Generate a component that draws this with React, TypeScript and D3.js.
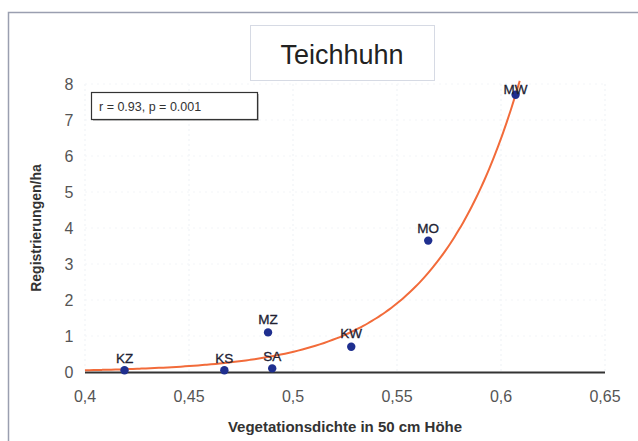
import React from "react";
import * as d3 from "d3";

// Vegetationsdichte (x) vs. Registrierungen/ha (y), per site
const sites = ["KZ", "KS", "MZ", "SA", "KW", "MO", "MW"];
const density = [0.419, 0.467, 0.488, 0.49, 0.528, 0.565, 0.607];
const registrations = [0.05, 0.05, 1.1, 0.1, 0.7, 3.65, 7.7];
// label offset above the dot (MW label sits on the dot)
const labelLift = [7, 7, 8, 7, 9, 8, 1];

const xTicks = [0.4, 0.45, 0.5, 0.55, 0.6, 0.65];
const yTicks = [0, 1, 2, 3, 4, 5, 6, 7, 8];

// exponential fit y = a * exp(b * x)
const fitA = 7.7 * Math.exp(-24.5 * 0.607);
const fitB = 24.5;
const fitRange = [0.4, 0.609];

const W = 638;
const H = 441;

const App = () => {
  const x = d3.scaleLinear().domain([0.4, 0.65]).range([85, 605]);
  const y = d3.scaleLinear().domain([0, 8]).range([372, 84]);

  const fitPts: [number, number][] = d3
    .range(0, 101)
    .map((i) => fitRange[0] + ((fitRange[1] - fitRange[0]) * i) / 100)
    .map((v) => [v, fitA * Math.exp(fitB * v)]);
  const line = d3
    .line<[number, number]>()
    .x((d) => x(d[0]))
    .y((d) => y(d[1]))
    .curve(d3.curveMonotoneX);

  const fmt = (v: number) => String(+v.toFixed(2)).replace(".", ",");
  const font = "Liberation Sans, Arial, sans-serif";

  return (
    <div style={{ position: "absolute", left: 0, top: 0 }}>
      <svg width={W} height={H} style={{ display: "block", background: "#fff" }} fontFamily={font}>
        {/* outer chart frame */}
        <path d={`M8.5,${H} V12.5 H${W}`} fill="none" stroke="#9a9fb0" strokeWidth={1.5} />

        {/* faint gridlines */}
        {xTicks.map((t) => (
          <line key={t} x1={x(t)} x2={x(t)} y1={y(8)} y2={y(0)} stroke="#edf1f5" strokeDasharray="2,3" />
        ))}
        {yTicks.slice(1).map((t) => (
          <line key={t} x1={x(0.4)} x2={x(0.65)} y1={y(t)} y2={y(t)} stroke="#f3f5f8" strokeDasharray="2,4" />
        ))}

        {/* title box */}
        <rect x={250.5} y={25.5} width={184} height={55} fill="#fff" stroke="#d6dae4" />
        <text x={342} y={64} textAnchor="middle" fontSize={27} fill="#222">
          Teichhuhn
        </text>

        {/* stats box */}
        <rect x={93} y={94} width={166} height={27} fill="#888" opacity={0.5} />
        <rect x={91.5} y={92.5} width={166} height={27} fill="#fff" stroke="#333" strokeWidth={1.2} />
        <text x={99} y={111} fontSize={12.5} fill="#333">
          r = 0.93, p = 0.001
        </text>

        {/* x axis */}
        <line x1={x(0.4)} x2={x(0.65)} y1={y(0) + 0.5} y2={y(0) + 0.5} stroke="#333" strokeWidth={2} />
        {xTicks.map((t) => (
          <text key={t} x={x(t)} y={402} textAnchor="middle" fontSize={16} fill="#555">
            {fmt(t)}
          </text>
        ))}
        <text x={345} y={432} textAnchor="middle" fontSize={15} fontWeight="bold" fill="#333">
          Vegetationsdichte in 50 cm Höhe
        </text>

        {/* y axis ticks */}
        {yTicks.map((t) => (
          <text key={t} x={69} y={y(t) + 6} textAnchor="middle" fontSize={16} fill="#555">
            {t}
          </text>
        ))}
        <text
          transform={`translate(41,${y(4)}) rotate(-90)`}
          textAnchor="middle"
          fontSize={14}
          fontWeight="bold"
          fill="#333"
        >
          Registrierungen/ha
        </text>

        {/* fit curve */}
        <path d={line(fitPts) ?? ""} fill="none" stroke="#f26b3a" strokeWidth={2} />

        {/* points and labels */}
        {sites.map((s, i) => (
          <g key={s}>
            <circle cx={x(density[i])} cy={y(registrations[i])} r={4.2} fill="#1f2f8f" />
            <text
              x={x(density[i])}
              y={y(registrations[i]) - labelLift[i]}
              textAnchor="middle"
              fontSize={13.5}
              fill="#222233"
              stroke="#222233"
              strokeWidth={0.3}
            >
              {s}
            </text>
          </g>
        ))}
      </svg>
    </div>
  );
};

export default App;
